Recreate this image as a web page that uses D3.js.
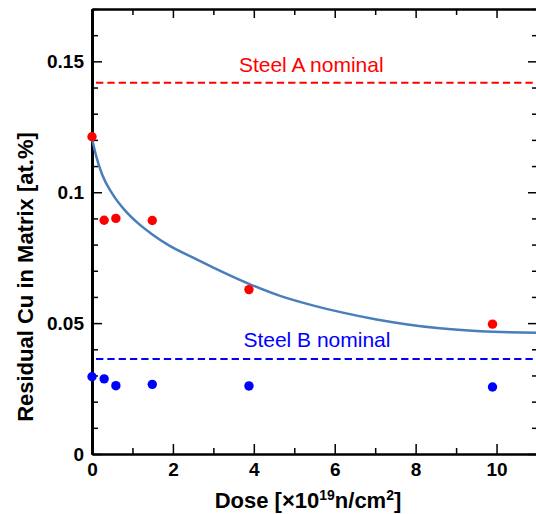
<!DOCTYPE html>
<html>
<head>
<meta charset="utf-8">
<script src="https://cdn.jsdelivr.net/npm/d3@7"></script>
<style>
  body { margin: 0; background: #fff; }
  text { font-family: "Liberation Sans", Arial, sans-serif; }
</style>
</head>
<body>
<svg id="chart" width="536" height="514"></svg>
<script>
// measured points (dose in 1e19 n/cm2, Cu in at.%)
var doseA = [0, 0.30, 0.59, 1.49, 3.88, 9.9]
var cuA = [0.1212, 0.0893, 0.0900, 0.0892, 0.0628, 0.0496]
var doseB = [0, 0.30, 0.59, 1.49, 3.88, 9.9]
var cuB = [0.0295, 0.0287, 0.0261, 0.0266, 0.0260, 0.0256]

// fitted curve
var curveDose = [0, 0.1, 0.25, 0.5, 0.82, 1.15, 1.5, 1.9, 2.5, 3.0, 3.85, 4.65, 5.5, 6.2, 7.0, 7.8, 8.6, 9.6, 11]
var curveCu = [0.1205, 0.1140, 0.1068, 0.0995, 0.0930, 0.0880, 0.0838, 0.0797, 0.0750, 0.0712, 0.0652, 0.0604, 0.0566, 0.0540, 0.0515, 0.0495, 0.0480, 0.0469, 0.0463]

// nominal levels
var nominalA = 0.1418
var nominalB = 0.0363
var labelA = 'Steel A nominal'
var labelB = 'Steel B nominal'

var xTicks = [0, 2, 4, 6, 8, 10]
var xMinor = [1, 3, 5, 7, 9, 11]
var yTicks = [0, 0.05, 0.1, 0.15]
var yMinor = [0.01, 0.02, 0.03, 0.04, 0.06, 0.07, 0.08, 0.09, 0.11, 0.12, 0.13, 0.14, 0.16, 0.17]

var margin = {left: 92, top: 9}
var w = 445, h = 445

var svg = d3.select('#chart')
var g = svg.append('g').attr('transform', 'translate(' + margin.left + ',' + margin.top + ')')

var x = d3.scaleLinear().domain([0, 11]).range([0, w])
var y = d3.scaleLinear().domain([0, 0.17]).range([h, 0])

////// axes
function styleAxis(sel, width) {
    sel.select('.domain').attr('stroke', '#000').attr('stroke-width', width)
    sel.selectAll('.tick line').attr('stroke', '#000').attr('stroke-width', 1.5)
    sel.selectAll('.tick text')
        .attr('font-size', 19).attr('font-weight', 'bold').attr('fill', '#000')
}

var fmt = function (d) { return String(+d.toFixed(2)) }

// bottom
g.append('g').attr('transform', 'translate(0,' + h + ')')
    .call(d3.axisBottom(x).tickValues(xMinor).tickSizeInner(-6).tickSizeOuter(0).tickFormat(''))
    .call(styleAxis, 2)
g.append('g').attr('transform', 'translate(0,' + h + ')')
    .call(d3.axisBottom(x).tickValues(xTicks).tickSizeInner(-10).tickSizeOuter(0).tickPadding(9).tickFormat(fmt))
    .call(styleAxis, 2)

// top
g.append('g')
    .call(d3.axisTop(x).tickValues(xMinor).tickSizeInner(-6).tickSizeOuter(0).tickFormat(''))
    .call(styleAxis, 2)
g.append('g')
    .call(d3.axisTop(x).tickValues(xTicks).tickSizeInner(-9).tickSizeOuter(0).tickFormat(''))
    .call(styleAxis, 2)

// right
g.append('g').attr('transform', 'translate(' + w + ',0)')
    .call(d3.axisRight(y).tickValues(yMinor).tickSizeInner(-5).tickSizeOuter(0).tickFormat(''))
    .call(styleAxis, 2)
g.append('g').attr('transform', 'translate(' + w + ',0)')
    .call(d3.axisRight(y).tickValues(yTicks).tickSizeInner(-9).tickSizeOuter(0).tickFormat(''))
    .call(styleAxis, 2)

// left
g.append('g')
    .call(d3.axisLeft(y).tickValues(yMinor).tickSizeInner(-6).tickSizeOuter(0).tickFormat(''))
    .call(styleAxis, 3)
g.append('g')
    .call(d3.axisLeft(y).tickValues(yTicks).tickSizeInner(-10).tickSizeOuter(0).tickPadding(8).tickFormat(fmt))
    .call(styleAxis, 3)

////// nominal lines
function nominal(val, color, label, labelDose, lift) {
    g.append('line')
        .attr('x1', x(0.1)).attr('x2', x(11))
        .attr('y1', y(val)).attr('y2', y(val))
        .attr('stroke', color).attr('stroke-width', 2)
        .attr('stroke-dasharray', '7.3,4')
    g.append('text')
        .attr('x', x(labelDose)).attr('y', y(val) - lift)
        .attr('text-anchor', 'middle')
        .attr('font-size', 21)
        .attr('fill', color)
        .text(label)
}
nominal(nominalA, '#ff0000', labelA, 5.42, 11)
nominal(nominalB, '#0000ff', labelB, 5.56, 12)

////// fit curve
var line = d3.line()
    .x(function (d) { return x(d[0]) })
    .y(function (d) { return y(d[1]) })
    .curve(d3.curveMonotoneX)

g.append('path')
    .datum(d3.zip(curveDose, curveCu))
    .attr('d', line)
    .attr('fill', 'none')
    .attr('stroke', '#4a7ebb')
    .attr('stroke-width', 2.5)

////// dots
g.selectAll('.dotA').data(d3.zip(doseA, cuA)).enter().append('circle')
    .attr('class', 'dotA')
    .attr('cx', function (d) { return x(d[0]) })
    .attr('cy', function (d) { return y(d[1]) })
    .attr('r', 4.7)
    .attr('fill', '#ff0000')

g.selectAll('.dotB').data(d3.zip(doseB, cuB)).enter().append('circle')
    .attr('class', 'dotB')
    .attr('cx', function (d) { return x(d[0]) })
    .attr('cy', function (d) { return y(d[1]) })
    .attr('r', 4.7)
    .attr('fill', '#0000ff')

////// titles
var xt = svg.append('text')
    .attr('x', 308).attr('y', 508)
    .attr('text-anchor', 'middle')
    .attr('font-size', 22).attr('font-weight', 'bold')
xt.append('tspan').text('Dose [\u00d710')
xt.append('tspan').attr('font-size', 14).attr('dy', -8).text('19')
xt.append('tspan').attr('dy', 8).text('n/cm')
xt.append('tspan').attr('font-size', 14).attr('dy', -8).text('2')
xt.append('tspan').attr('dy', 8).text(']')

svg.append('text')
    .attr('transform', 'translate(33,277) rotate(-90)')
    .attr('text-anchor', 'middle')
    .attr('font-size', 22).attr('font-weight', 'bold')
    .text('Residual Cu in Matrix [at.%]')
</script>
</body>
</html>
